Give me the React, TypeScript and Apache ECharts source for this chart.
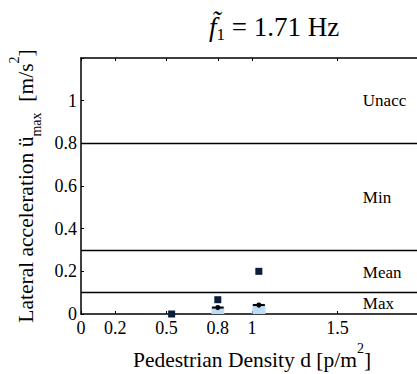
import React, { useEffect, useRef } from "react";
import * as echarts from "echarts";

const xTicks = [0, 0.2, 0.5, 0.8, 1, 1.5];
const squareX = [0.53, 0.8, 1.04];
const squareY = [0, 0.067, 0.2];
const meanX = [0.8, 1.04];
const meanY = [0.03, 0.042];
const meanErr = [0.034, 0.035];
const boxX = [0.8, 1.04];
const boxY = [0.036, 0.048];
const limitLines = [0.8, 0.3, 0.1];
const zoneNames = ["Unacc", "Min", "Mean", "Max"];
const zoneY = [1.0, 0.547, 0.195, 0.048];
const zoneX = 1.648;

const FONT = "'Liberation Serif', 'Times New Roman', serif";

export default function App() {
  const ref = useRef<HTMLDivElement>(null);
  useEffect(() => {
    if (!ref.current) return;
    document.body.style.margin = "0";
    const chart = echarts.init(ref.current, null, { renderer: "svg" });
    const axisText = { color: "#000", fontFamily: FONT, fontSize: 18 };
    chart.setOption({
      animation: false,
      textStyle: { fontFamily: FONT },
      grid: { left: 81, top: 58, bottom: 60, right: -6, containLabel: false, outerBoundsMode: "none" },
      graphic: [
        {
          type: "text",
          x: 274,
          y: 27,
          style: {
            text: "{f|f\u0303}{s|1}{n| = 1.71 Hz}",
            align: "center",
            verticalAlign: "middle",
            fontFamily: FONT,
            rich: {
              f: { fontFamily: FONT, fontStyle: "italic", fontSize: 27, fill: "#000", lineHeight: 32, verticalAlign: "middle" },
              s: { fontFamily: FONT, fontSize: 17, fill: "#000", lineHeight: 17, verticalAlign: "bottom" },
              n: { fontFamily: FONT, fontSize: 27, fill: "#000", lineHeight: 32, verticalAlign: "middle" },
            },
          },
        },
      ],
      xAxis: [
        {
          type: "value",
          min: 0,
          max: 2,
          position: "bottom",
          splitLine: { show: false },
          axisLine: { show: true, onZero: false, lineStyle: { color: "#000", width: 1.5 } },
          axisTick: { show: true, inside: true, length: 3, customValues: xTicks, lineStyle: { color: "#000" } },
          axisLabel: { ...axisText, customValues: xTicks, margin: 5, formatter: (v: number) => String(v) },
          name: "{a|Pedestrian Density d [p/m}{p|2}{a|]}",
          nameLocation: "middle",
          nameGap: 25,
          nameTextStyle: {
            rich: {
              a: { fontFamily: FONT, fontSize: 21.5, color: "#000", lineHeight: 36, verticalAlign: "middle" },
              p: { fontFamily: FONT, fontSize: 14, color: "#000", lineHeight: 14, verticalAlign: "top" },
            },
          },
        },
        {
          type: "value",
          min: 0,
          max: 2,
          position: "top",
          splitLine: { show: false },
          axisLine: { show: true, onZero: false, lineStyle: { color: "#000", width: 1.5 } },
          axisTick: { show: true, inside: true, length: 3, customValues: xTicks, lineStyle: { color: "#000" } },
          axisLabel: { show: false },
        },
      ],
      yAxis: {
        type: "value",
        min: 0,
        max: 1.2,
        interval: 0.2,
        splitLine: { show: false },
        axisLine: { show: true, onZero: false, lineStyle: { color: "#000", width: 1.5 } },
        axisTick: { show: true, inside: true, length: 3, lineStyle: { color: "#000" } },
        axisLabel: {
          ...axisText,
          margin: 4,
          formatter: (v: number) => (v > 1.1 ? "" : String(+v.toFixed(1))),
        },
        name: "{a|Lateral acceleration \u00fc}{s|max}{a|  [m/s}{p|2}{a|]}",
        nameLocation: "middle",
        nameGap: 35,
        nameTextStyle: {
          rich: {
            a: { fontFamily: FONT, fontSize: 21.5, color: "#000", lineHeight: 36, verticalAlign: "middle" },
            s: { fontFamily: FONT, fontSize: 14, color: "#000", lineHeight: 14, verticalAlign: "bottom" },
            p: { fontFamily: FONT, fontSize: 14, color: "#000", lineHeight: 14, verticalAlign: "top" },
          },
        },
      },
      series: [
        {
          type: "bar",
          data: boxX.map((x, i) => [x, boxY[i]]),
          barWidth: 13,
          itemStyle: { color: "#bcdcf8" },
          z: 1,
          silent: true,
        },
        {
          type: "scatter",
          data: squareX.map((x, i) => [x, squareY[i]]),
          symbol: "rect",
          symbolSize: 7,
          itemStyle: { color: "#0b1f3a", opacity: 1 },
          clip: false,
          z: 3,
          markLine: {
            silent: true,
            symbol: "none",
            label: { show: false },
            lineStyle: { color: "#000", width: 1.3, type: "solid", opacity: 1 },
            data: limitLines.map((v) => ({ yAxis: v })),
          },
        },
        {
          type: "custom",
          z: 4,
          data: meanX.map((x, i) => [x, meanY[i], x - meanErr[i], x + meanErr[i]]),
          renderItem: (params: any, api: any) => {
            const c = api.coord([api.value(0), api.value(1)]);
            const lo = api.coord([api.value(2), api.value(1)]);
            const hi = api.coord([api.value(3), api.value(1)]);
            return {
              type: "group",
              children: [
                { type: "line", shape: { x1: lo[0], y1: lo[1], x2: hi[0], y2: hi[1] }, style: { stroke: "#000", lineWidth: 2 } },
                { type: "circle", shape: { cx: c[0], cy: c[1], r: 2.6 }, style: { fill: "#000" } },
              ],
            };
          },
        },
        {
          type: "scatter",
          data: zoneNames.map((n, i) => [zoneX, zoneY[i], n]),
          symbolSize: 0,
          silent: true,
          itemStyle: { opacity: 1 },
          label: {
            show: true,
            position: "right",
            distance: 0,
            formatter: (p: any) => p.value[2],
            color: "#000",
            fontFamily: FONT,
            fontSize: 17,
          },
        },
      ],
    });
    return () => chart.dispose();
  }, []);
  return <div ref={ref} style={{ width: 417, height: 374 }} />;
}
